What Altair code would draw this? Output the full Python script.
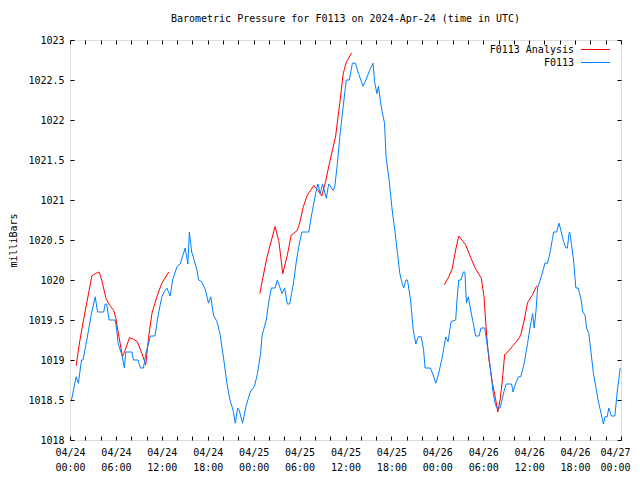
import altair as alt
import pandas as pd

# ---------------- data (hours since 2024-04-24 00:00 UTC, millibars) ----------------
blue_t = [0.2, 0.8, 1.1, 1.5, 1.7, 2.2, 2.8, 3.3, 3.6, 4.4, 4.6, 4.8, 5.1, 5.9, 6.1, 6.3, 6.8, 7.1, 7.3, 8.1,
          8.3, 8.9, 9.2, 9.6, 9.95, 10.25, 10.5, 11.1, 11.56, 12.0, 12.3, 12.65, 13.1, 13.4, 14.0, 14.4, 15.05,
          15.4, 15.6, 15.9, 16.1, 16.6, 16.8, 17.2, 17.7, 18.1, 18.4, 18.75, 19.2, 19.6, 20.1, 20.5, 20.9, 21.3,
          21.6, 21.9, 22.1, 22.55, 23.0, 23.55, 24.1, 24.5, 24.9, 25.1, 25.65, 25.95, 26.3, 26.8, 27.1, 27.7,
          28.05, 28.4, 28.7, 29.2, 29.6, 29.9, 30.3, 31.2, 31.6, 32.1, 32.4, 32.7, 33.0, 33.5, 33.8, 34.4, 34.6,
          34.9, 35.3, 35.7, 36.1, 36.5, 36.9, 37.3, 37.7, 38.3, 38.7, 39.2, 39.6, 39.8, 40.1, 40.3, 40.6, 40.8,
          41.1, 41.3, 41.7, 42.1, 42.5, 42.8, 43.1, 43.4, 43.6, 43.9, 44.1, 44.5, 44.85, 45.2, 45.5, 45.9, 46.2,
          46.4, 47.1, 47.5, 47.8, 48.1, 48.65, 49.1, 49.4, 49.8, 50.4, 50.6, 50.8, 51.1, 51.4, 51.6, 51.8, 52.05,
          52.4, 52.7, 53.0, 53.45, 53.7, 54.2, 54.45, 54.75, 55.05, 55.3, 55.6, 55.8, 56.2, 56.5, 56.75, 57.0,
          57.7, 57.9, 58.2, 58.6, 58.9, 59.35, 59.8, 60.1, 60.45, 60.65, 60.9, 61.1, 61.45, 61.9, 62.05, 62.4,
          62.6, 62.8, 63.05, 63.2, 63.6, 63.9, 64.2, 64.5, 64.8, 65.0, 65.2, 65.3, 65.5, 65.8, 66.1, 66.4, 66.8,
          67.0, 67.3, 67.5, 67.8, 68.1, 68.4, 68.7, 69.0, 69.4, 69.7, 69.9, 70.2, 70.4, 70.75, 71.2, 71.5, 71.7,
          71.9]
blue_p = [1018.50, 1018.79, 1018.71, 1019.0, 1019.0, 1019.25, 1019.58, 1019.79, 1019.6, 1019.6, 1019.7, 1019.7,
          1019.5, 1019.5, 1019.38, 1019.2, 1019.06, 1018.9, 1019.1, 1019.1, 1019.0, 1019.0, 1018.9, 1018.9,
          1019.1, 1019.2, 1019.3, 1019.3, 1019.58, 1019.79, 1019.85, 1019.9, 1019.8, 1020.0, 1020.17, 1020.2,
          1020.4, 1020.2, 1020.6, 1020.35, 1020.29, 1020.12, 1020.0, 1019.98, 1019.875, 1019.71, 1019.79,
          1019.56, 1019.48, 1019.33, 1019.0, 1018.71, 1018.5, 1018.375, 1018.21, 1018.4, 1018.375, 1018.21,
          1018.42, 1018.6, 1018.67, 1018.83, 1019.08, 1019.31, 1019.5, 1019.71, 1019.9, 1019.9, 1020.0,
          1019.83, 1019.9, 1019.7, 1019.7, 1019.96, 1020.25, 1020.42, 1020.6, 1020.6, 1020.83, 1021.08,
          1021.2, 1021.08, 1021.2, 1021.02, 1021.2, 1021.12, 1021.17, 1021.42, 1021.83, 1022.17, 1022.5,
          1022.5, 1022.71, 1022.71, 1022.58, 1022.42, 1022.51, 1022.63, 1022.71, 1022.48, 1022.33, 1022.42,
          1022.21, 1022.1, 1021.96, 1021.54, 1021.25, 1020.875, 1020.58, 1020.33, 1020.08, 1019.96, 1019.9,
          1020.0, 1020.0, 1019.75, 1019.375, 1019.2, 1019.29, 1019.29, 1019.13, 1018.9, 1018.9, 1018.8,
          1018.71, 1018.8, 1019.04, 1019.29, 1019.23, 1019.48, 1019.5, 1019.79, 1020.0, 1020.0, 1020.1,
          1020.1, 1019.71, 1019.79, 1019.6, 1019.46, 1019.3, 1019.3, 1019.4, 1019.4, 1019.23, 1019.04,
          1018.79, 1018.58, 1018.44, 1018.4, 1018.4, 1018.52, 1018.62, 1018.7, 1018.7, 1018.6, 1018.7,
          1018.79, 1018.79, 1018.96, 1019.21, 1019.4, 1019.58, 1019.4, 1019.62, 1019.9, 1020.0, 1020.15,
          1020.21, 1020.21, 1020.29, 1020.38, 1020.52, 1020.6, 1020.6, 1020.71, 1020.6, 1020.48, 1020.4,
          1020.4, 1020.58, 1020.6, 1020.46, 1020.25, 1019.9, 1019.9, 1019.75, 1019.6, 1019.56, 1019.4,
          1019.33, 1019.08, 1018.83, 1018.67, 1018.5, 1018.33, 1018.2, 1018.29, 1018.29, 1018.4, 1018.3,
          1018.3, 1018.6, 1018.75, 1018.9]

red1_t = [0.8, 1.3, 1.96, 2.6, 2.85, 3.3, 3.8, 4.15, 4.7, 5.15, 5.7, 6.0, 6.2, 6.55, 6.85, 7.2, 7.77, 8.3, 8.8,
          9.4, 9.9, 10.25, 10.7, 11.35, 12.0, 12.9]
red1_p = [1018.93, 1019.25, 1019.6, 1019.92, 1020.05, 1020.08, 1020.1, 1020.0, 1019.77, 1019.69, 1019.62,
          1019.52, 1019.4, 1019.21, 1019.04, 1019.12, 1019.28, 1019.26, 1019.23, 1019.08, 1018.94, 1019.27,
          1019.58, 1019.79, 1019.96, 1020.1]
red2_t = [24.8, 25.7, 26.8, 27.3, 27.8, 28.4, 28.9, 29.7, 30.0, 30.5, 31.0, 31.85, 32.4, 32.9, 33.4, 33.9,
          34.7, 35.25, 35.7, 36.1, 36.8]
red2_p = [1019.83, 1020.27, 1020.67, 1020.48, 1020.08, 1020.31, 1020.56, 1020.62, 1020.71, 1020.92, 1021.06,
          1021.18, 1021.12, 1021.05, 1021.23, 1021.46, 1021.79, 1022.21, 1022.58, 1022.72, 1022.84]
red3_t = [48.9, 49.5, 49.95, 50.4, 50.8, 51.7, 52.4, 53.0, 53.75, 54.1, 54.3, 54.5, 54.75, 55.2, 55.6, 55.9,
          56.2, 56.5, 56.8, 57.2, 57.8, 58.5, 58.9, 59.35, 59.8, 60.45, 61.0]
red3_p = [1019.94, 1020.04, 1020.14, 1020.38, 1020.55, 1020.44, 1020.27, 1020.14, 1020.02, 1019.79, 1019.5,
          1019.25, 1019.0, 1018.71, 1018.52, 1018.35, 1018.5, 1018.75, 1019.07, 1019.1, 1019.17, 1019.25,
          1019.31, 1019.5, 1019.72, 1019.82, 1019.93]

x_tick_hours = list(range(0, 73, 2))
y_ticks = [1018 + 0.5 * i for i in range(11)]
legend_labels = ["F0113 Analysis", "F0113"]
title_text = "Barometric Pressure for F0113 on 2024-Apr-24 (time in UTC)"

RED = "#ff0000"
BLUE = "#0080ff"
FONT = "DejaVu Sans Mono"

blue_df = pd.DataFrame({"t": blue_t, "p": blue_p})
red_df = pd.concat([
    pd.DataFrame({"t": red1_t, "p": red1_p, "seg": 1}),
    pd.DataFrame({"t": red2_t, "p": red2_p, "seg": 2}),
    pd.DataFrame({"t": red3_t, "p": red3_p, "seg": 3}),
])

xscale = alt.Scale(domain=[0, 72], nice=False, zero=False)
yscale = alt.Scale(domain=[1018, 1023], nice=False, zero=False)

label_expr = ("datum.value % 6 == 0 ? ['04/' + (24 + floor(datum.value / 24)), "
              "((datum.value % 24) < 10 ? '0' : '') + (datum.value % 24) + ':00'] : ''")

common_axis = dict(tickSize=4, offset=-4, domain=False, grid=False, tickColor="black",
                   labelFont=FONT, labelFontSize=10, labelColor="black")

blue_line = alt.Chart(blue_df).mark_line(color=BLUE, strokeWidth=1).encode(
    x=alt.X("t:Q", scale=xscale,
            axis=alt.Axis(values=x_tick_hours, labelExpr=label_expr, labelPadding=7,
                          labelLineHeight=15, labelAngle=0, labelOverlap=False, labelFlush=False,
                          labelOffset={"condition": {"test": "datum.value == 72", "value": -6}, "value": 0},
                          title=None, orient="bottom", **common_axis)),
    y=alt.Y("p:Q", scale=yscale,
            axis=alt.Axis(values=y_ticks, format=".1~f", labelPadding=6, orient="left",
                          title="milliBars", titleFont=FONT, titleFontSize=10, titleFontWeight="normal",
                          titleColor="black", titlePadding=9, **common_axis)),
)

red_line = alt.Chart(red_df).mark_line(color=RED, strokeWidth=1).encode(
    x=alt.X("t:Q", scale=xscale,
            axis=alt.Axis(values=x_tick_hours, labels=False, title=None, orient="top", **common_axis)),
    y=alt.Y("p:Q", scale=yscale,
            axis=alt.Axis(values=y_ticks, labels=False, title=None, orient="right", **common_axis)),
    detail="seg:N",
)

leg_red_text = alt.Chart(pd.DataFrame({"label": [legend_labels[0]]})).mark_text(
    align="right", baseline="middle", font=FONT, fontSize=10, color="black"
).encode(text="label:N", x=alt.value(504), y=alt.value(9.5))
leg_blue_text = alt.Chart(pd.DataFrame({"label": [legend_labels[1]]})).mark_text(
    align="right", baseline="middle", font=FONT, fontSize=10, color="black"
).encode(text="label:N", x=alt.value(504), y=alt.value(22.5))
leg_red_line = alt.Chart(pd.DataFrame({"label": [legend_labels[0]]})).mark_rule(
    color=RED, strokeWidth=1
).encode(x=alt.value(511), x2=alt.value(540), y=alt.value(9.5))
leg_blue_line = alt.Chart(pd.DataFrame({"label": [legend_labels[1]]})).mark_rule(
    color=BLUE, strokeWidth=1
).encode(x=alt.value(511), x2=alt.value(540), y=alt.value(22.5))

chart = alt.layer(
    red_line, blue_line, leg_red_text, leg_blue_text, leg_red_line, leg_blue_line
).resolve_axis(x="independent", y="independent").properties(
    width=551, height=400,
    autosize="none",
    padding={"left": 62, "top": 32, "right": 11, "bottom": 32},
    title=alt.TitleParams(title_text, font=FONT, fontSize=10, fontWeight="normal",
                          color="black", anchor="middle", offset=11),
).configure_view(stroke="black", strokeWidth=1).configure(background="white")

chart.save("out.html", embed_options={"renderer": "svg", "actions": False})
